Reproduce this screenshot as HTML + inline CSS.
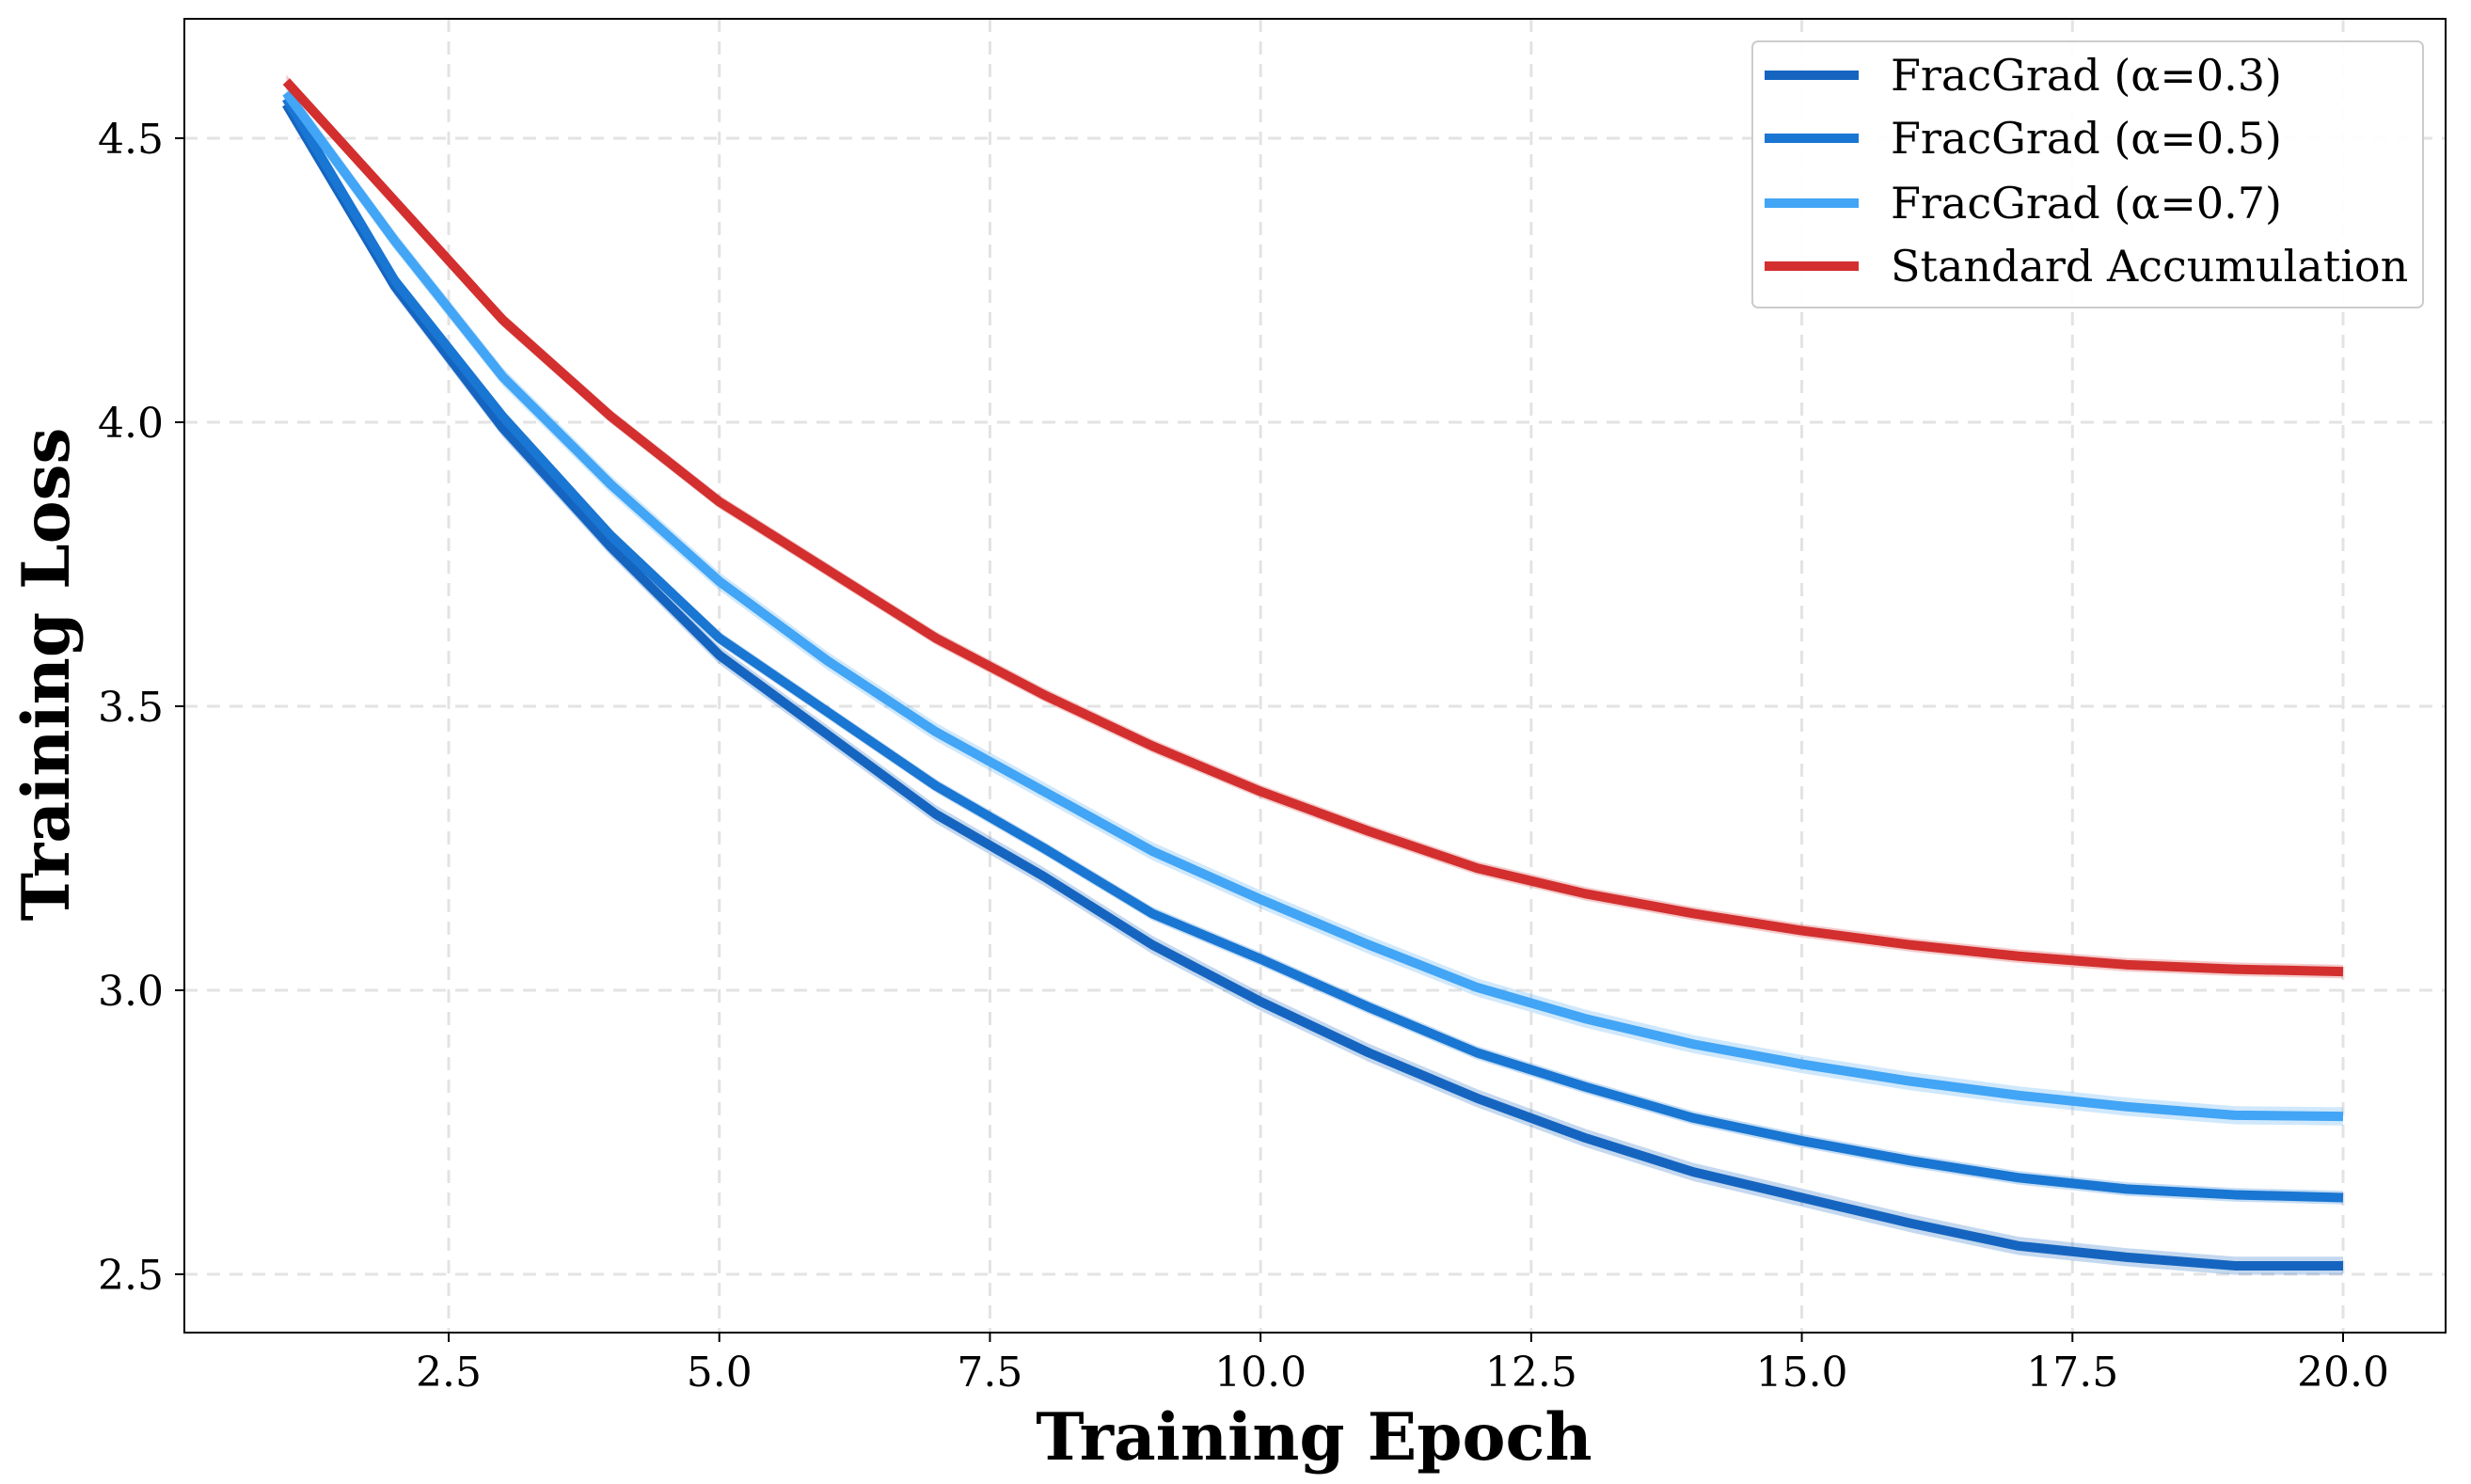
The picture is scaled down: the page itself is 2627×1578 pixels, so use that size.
<!DOCTYPE html>
<html><head><meta charset="utf-8"><style>html,body{margin:0;padding:0;background:#fff}svg{display:block}</style></head>
<body>
<svg id="chart" width="2627" height="1578" xmlns="http://www.w3.org/2000/svg" font-family="'DejaVu Serif','Liberation Serif',serif">
<rect width="2627" height="1578" fill="#fff"/>
<g id="grid"></g>
<g id="bands"></g>
<g id="lines"></g>
<rect x="196" y="20" width="2404" height="1397" fill="none" stroke="#000" stroke-width="2"/>
<g id="ticks"></g>
<text x="1397" y="1552" font-size="69" font-weight="bold" text-anchor="middle">Training Epoch</text>
<text transform="translate(73,717) rotate(-90)" font-size="69" font-weight="bold" text-anchor="middle">Training Loss</text>
<g>
<rect x="1863" y="44" width="713" height="283" rx="6" fill="#fff" fill-opacity="0.9" stroke="#ccc" stroke-width="2"/>
<g id="legend-entries"></g>
</g>
</svg>
<script>
const epochs=[1,2,3,4,5,6,7,8,9,10,11,12,13,14,15,16,17,18,19,20];
const lossA03=[4.56,4.24,3.99,3.78,3.59,3.45,3.31,3.20,3.08,2.98,2.89,2.81,2.74,2.68,2.635,2.59,2.55,2.53,2.515,2.515];
const lossA05=[4.57,4.25,4.01,3.80,3.62,3.49,3.36,3.25,3.135,3.055,2.97,2.89,2.83,2.775,2.735,2.70,2.67,2.65,2.64,2.635];
const lossA07=[4.58,4.32,4.08,3.89,3.72,3.58,3.455,3.35,3.245,3.16,3.08,3.005,2.95,2.905,2.87,2.84,2.815,2.795,2.78,2.778];
const lossStd=[4.60,4.39,4.18,4.01,3.86,3.74,3.62,3.52,3.43,3.35,3.28,3.215,3.17,3.135,3.105,3.08,3.06,3.045,3.037,3.033];
const xTicks=[2.5,5.0,7.5,10.0,12.5,15.0,17.5,20.0];
const yTicks=[2.5,3.0,3.5,4.0,4.5];
const seriesNames=["FracGrad (α=0.3)","FracGrad (α=0.5)","FracGrad (α=0.7)","Standard Accumulation"];
const bandHalfWidth=[0.016,0.012,0.016,0.012];

const NS="http://www.w3.org/2000/svg";
const X0=196,X1=2600,Y0=20,Y1=1417;
function xs(v){return 477+(v-2.5)*(2491-477)/17.5;}
function ys(v){return 1355-(v-2.5)*(1355-147)/2.0;}
function mk(tag,attrs,parent){const e=document.createElementNS(NS,tag);for(const k in attrs)e.setAttribute(k,attrs[k]);parent.appendChild(e);return e;}
const grid=document.getElementById('grid'),ticks=document.getElementById('ticks');
xTicks.forEach(t=>{
  const g=mk('line',{x1:xs(t),x2:xs(t),y1:Y0,y2:Y1,stroke:'#e3e3e3','stroke-width':3,'stroke-dasharray':'14 10'},grid);
  
  
  mk('line',{x1:xs(t),x2:xs(t),y1:Y1,y2:Y1+10,stroke:'#000','stroke-width':2},ticks);
  const tx=mk('text',{x:xs(t),y:1474,'font-size':44,'text-anchor':'middle'},ticks);
  tx.textContent=t.toFixed(1);
  
  
});
yTicks.forEach(t=>{
  const g=mk('line',{x1:X0,x2:X1,y1:ys(t),y2:ys(t),stroke:'#e3e3e3','stroke-width':3,'stroke-dasharray':'14 10'},grid);
  
  
  mk('line',{x1:X0-10,x2:X0,y1:ys(t),y2:ys(t),stroke:'#000','stroke-width':2},ticks);
  const tx=mk('text',{x:174,y:ys(t)+16,'font-size':44,'text-anchor':'end'},ticks);
  tx.textContent=t.toFixed(1);
  
  
});
const data=[lossA03,lossA05,lossA07,lossStd];
const colors=['#1565C0','#1976D2','#42A5F5','#D32F2F'];
const keys=['alpha-03','alpha-05','alpha-07','standard'];
const bands=document.getElementById('bands'),lines=document.getElementById('lines');
data.forEach((d,i)=>{
  const up=epochs.map((e,j)=>xs(e)+','+ys(d[j]+bandHalfWidth[i]));
  const dn=epochs.map((e,j)=>xs(e)+','+ys(d[j]-bandHalfWidth[i])).reverse();
  const b=mk('polygon',{points:up.concat(dn).join(' '),fill:colors[i],'fill-opacity':0.25},bands);
  
  
});
data.forEach((d,i)=>{
  const p=mk('polyline',{points:epochs.map((e,j)=>xs(e)+','+ys(d[j])).join(' '),fill:'none',stroke:colors[i],'stroke-width':10,'stroke-linejoin':'round'},lines);
  
  
});
const leg=document.getElementById('legend-entries');
const rowY=[80,147,216,283];
seriesNames.forEach((n,i)=>{
  const g=mk('g',{},leg);
  
  
  mk('line',{x1:1876,x2:1976,y1:rowY[i],y2:rowY[i],stroke:colors[i],'stroke-width':10},g);
  const t=mk('text',{x:2010,y:rowY[i]+16,'font-size':46},g);
  t.textContent=n;
});
</script>
</body></html>
